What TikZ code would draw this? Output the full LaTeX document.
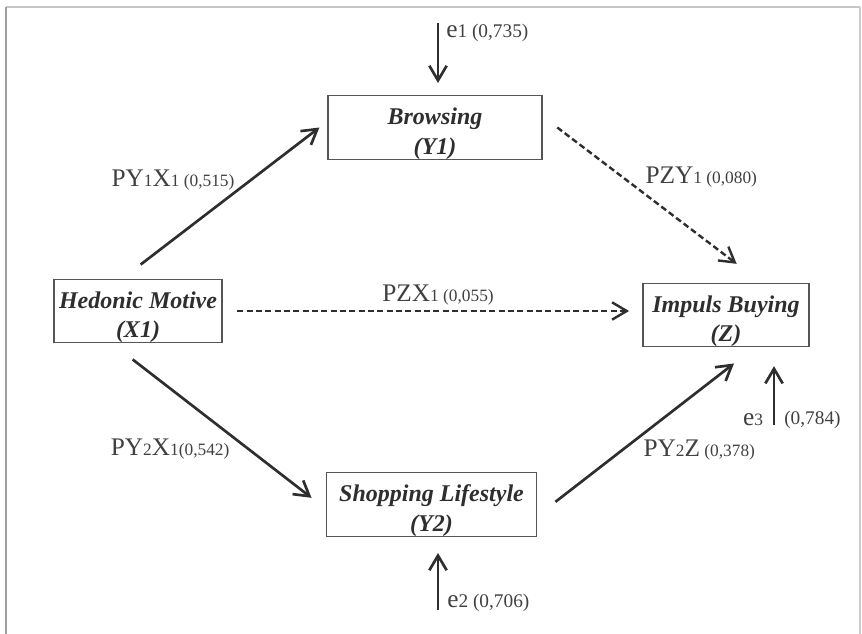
\documentclass[tikz,border=0pt]{standalone}
\usepackage{fontspec}
\setmainfont{Liberation Serif}
\usetikzlibrary{arrows.meta,positioning}
\definecolor{inkgray}{HTML}{2E2E2E}
\definecolor{txtgray}{HTML}{404040}
\definecolor{boxgray}{HTML}{555555}
\newcommand\smlt[1]{{\fontsize{13}{15}\selectfont #1}}
\newcommand\midt[1]{{\fontsize{14.5}{17}\selectfont #1}}
\newcommand\twolines[2]{\rule{0pt}{22pt}#1\\#2}

\begin{document}
\begin{tikzpicture}[
  x=0.75pt, y=-0.75pt,
  box/.style={draw=boxgray, line width=0.9pt, align=center, inner xsep=3pt, inner ysep=0pt,
    font=\fontsize{18}{22}\selectfont\bfseries\itshape, text=inkgray},
  lbl/.style={inner sep=1pt, text=txtgray, font=\fontsize{19}{22}\selectfont},
  arr/.style={-{Straight Barb[length=11pt,width=13pt]}, line width=2pt, draw=inkgray},
  darr/.style={arr, line width=1.8pt, dash pattern=on 4.5pt off 2.5pt}
]
\useasboundingbox (0,0) rectangle (862,634);
% frame
\draw[gray!45, line width=0.8pt] (6,7) -- (860,7);
\draw[gray!75, line width=1.2pt] (6,7) -- (6,634);
\draw[gray!40, line width=0.8pt] (860,7) -- (860,634);

\node[box, minimum width=126pt] (hed) at (138,311) {\twolines{Hedonic Motive}{(X1)}};
\node[box, minimum width=160.5pt] (brw) at (435,127.5) {\twolines{Browsing}{(Y1)}};
\node[box, minimum width=124.5pt] (imp) at (726,315) {\twolines{Impuls Buying}{(Z)}};
\node[box, minimum width=157pt] (shp) at (431.5,504.5) {\twolines{Shopping Lifestyle}{(Y2)}};

% error terms
\coordinate (e1) at (438,23);
\coordinate (e2) at (438,610);
\coordinate (e3) at (774,425);
\draw[arr, shorten >=9pt] (e1) -- (e1 |- brw.north);
\draw[arr, shorten >=12pt] (e2) -- (e2 |- shp.south);
\draw[arr, shorten >=14pt] (e3) -- (e3 |- imp.south);

% paths
\draw[arr] ([xshift=2pt,yshift=10.5pt]hed.north) -- ([xshift=-6pt]brw.west);
\draw[arr] ([xshift=-4pt,yshift=-12pt]hed.south) -- ([xshift=-11pt,yshift=5pt]shp.west);
\draw[darr] ([xshift=11pt]hed.east) -- ([xshift=-10pt]hed.east -| imp.west);
\draw[darr] ([xshift=11pt]brw.east) -- ([xshift=8pt,yshift=14pt]imp.north);
\draw[arr] ([xshift=14pt,yshift=2pt]shp.east) -- ([xshift=6pt,yshift=-12pt]imp.south);

% labels
\node[lbl, anchor=east] (lyx1) at (236,180) {PY\smlt{1}X\smlt{1 (0,515)}};
\node[lbl, anchor=east] (lyx2) at (231,449) {PY\smlt{2}X\smlt{1(0,542)}};
\node[lbl] (lzx) at (438,295) {PZX\smlt{1 (0,055)}};
\node[lbl, anchor=west] (lzy) at (644,177) {PZY\smlt{1 (0,080)}};
\node[lbl, anchor=west] (lyz) at (642,450) {PY\smlt{2}Z\smlt{ (0,378)}};
\node[lbl, anchor=west] (le1) at ([xshift=5pt,yshift=-7.5pt]e1) {e\midt{1 (0,735)}};
\node[lbl, anchor=west] (le2) at ([xshift=5.75pt,yshift=5.25pt]e2) {e\midt{2 (0,706)}};
\node[lbl, anchor=east] (le3) at ([xshift=-7pt,yshift=3.75pt]e3) {e\smlt{3}};
\node[lbl, anchor=west] (le3v) at ([xshift=6.5pt,yshift=3.75pt]e3) {\midt{(0,784)}};
\end{tikzpicture}
\end{document}
